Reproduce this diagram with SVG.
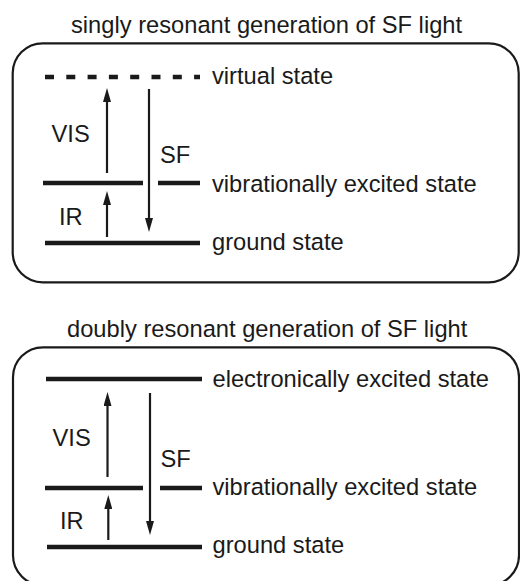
<svg xmlns="http://www.w3.org/2000/svg" width="520" height="581" viewBox="0 0 520 581">
<style>
text{font-family:"Liberation Sans",Arial,Helvetica,sans-serif;font-size:23.7px;fill:#1a1a1a}
.box{fill:none;stroke:#1a1a1a;stroke-width:2.2}
.lvl{stroke:#1a1a1a;stroke-width:4.5;fill:none}
.dash{stroke-dasharray:9 12.3}
.arr{stroke:#1a1a1a;stroke-width:2.2;fill:none;marker-end:url(#ah)}
</style>
<defs>
<marker id="ah" viewBox="0 0 14 8" refX="6" refY="4" markerWidth="14" markerHeight="8" markerUnits="userSpaceOnUse" orient="auto">
<path d="M0,0 L14,4 L0,8 z" fill="#1a1a1a"/>
</marker>
</defs>
<rect width="520" height="581" fill="#fff"/>

<g id="panel1">
<text x="71" y="33">singly resonant generation of SF light</text>
<rect class="box" x="12.7" y="43.3" width="506" height="239" rx="30" ry="30"/>
<g id="virtual-state"><line class="lvl dash" x1="45" y1="77" x2="200" y2="77"/><text x="212" y="84">virtual state</text></g>
<g id="vib-state-1"><line class="lvl" x1="43" y1="183" x2="143" y2="183"/><line class="lvl" x1="158" y1="183" x2="200" y2="183"/><text x="212" y="192">vibrationally excited state</text></g>
<g id="ground-state-1"><line class="lvl" x1="45" y1="243" x2="200" y2="243"/><text x="212" y="250">ground state</text></g>
<text x="51.5" y="142">VIS</text>
<text x="160" y="163.3">SF</text>
<text x="59" y="225">IR</text>
</g>

<g id="panel2">
<text x="67" y="336.7">doubly resonant generation of SF light</text>
<rect class="box" x="13" y="347.3" width="506" height="238" rx="30" ry="30"/>
<g id="elec-state"><line class="lvl" x1="46" y1="379" x2="202" y2="379"/><text x="212.5" y="387.3">electronically excited state</text></g>
<g id="vib-state-2"><line class="lvl" x1="45" y1="488" x2="143" y2="488"/><line class="lvl" x1="160" y1="488" x2="202" y2="488"/><text x="212.5" y="495">vibrationally excited state</text></g>
<g id="ground-state-2"><line class="lvl" x1="47" y1="547" x2="202" y2="547"/><text x="212.5" y="553.3">ground state</text></g>
<text x="52.5" y="446">VIS</text>
<text x="160.5" y="466.7">SF</text>
<text x="60" y="529.3">IR</text>
</g>

<g id="connectors">
<line class="arr" x1="107" y1="173" x2="107" y2="96"/>
<line class="arr" x1="107" y1="237" x2="107" y2="199"/>
<line class="arr" x1="149" y1="89" x2="149" y2="224"/>
<line class="arr" x1="107.5" y1="477" x2="107.5" y2="400"/>
<line class="arr" x1="108.3" y1="540" x2="108.3" y2="503"/>
<line class="arr" x1="150" y1="393" x2="150" y2="527"/>
</g>
</svg>
